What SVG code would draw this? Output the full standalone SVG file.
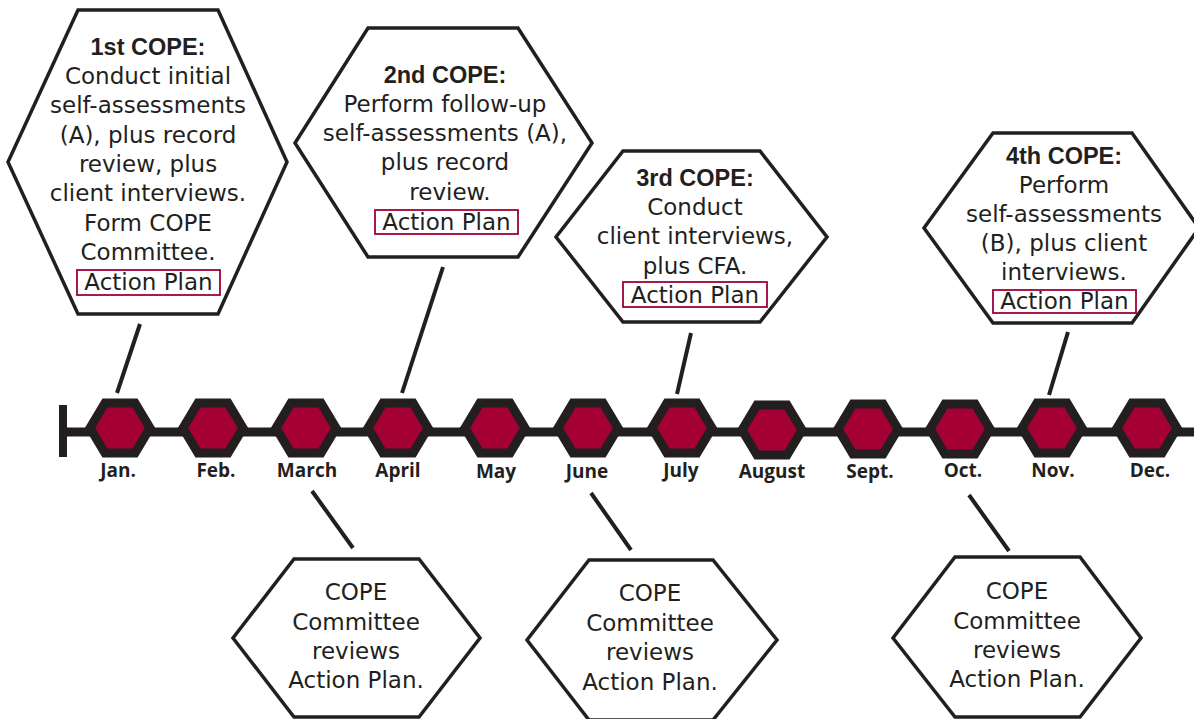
<svg xmlns="http://www.w3.org/2000/svg" width="1194" height="719" viewBox="0 0 1194 719">
<style>
.hex{fill:#fff;stroke:#231f20;stroke-width:3.5;stroke-linejoin:miter}
.t{font-family:"DejaVu Sans","Open Sans",sans-serif;font-size:23px;fill:#231f20;text-anchor:middle}
.b{font-family:"Liberation Sans",Arial,sans-serif;font-size:23.5px;font-weight:bold;fill:#231f20;text-anchor:middle}
.ap{fill:none;stroke:#a0003a;stroke-width:1.8}
.m{fill:#a50034;stroke:#231f20;stroke-width:9;stroke-linejoin:miter}
.ml{font-family:"Open Sans","Liberation Sans",sans-serif;font-size:19px;font-weight:bold;fill:#231f20;text-anchor:middle}
.c{stroke:#231f20;stroke-width:4;fill:none}
</style>
<defs>
<polygon id="mh" points="-30,0 -15,-25 15,-25 30,0 15,25 -15,25"/>
</defs>
<rect width="1194" height="719" fill="#fff"/>

<g id="connectors">
<line class="c" x1="140" y1="324" x2="117" y2="393"/>
<line class="c" x1="443" y1="267" x2="402" y2="393"/>
<line class="c" x1="691" y1="333" x2="677" y2="394"/>
<line class="c" x1="1068" y1="332" x2="1049" y2="395"/>
<line class="c" x1="312" y1="491" x2="353" y2="548"/>
<line class="c" x1="591" y1="493" x2="631" y2="550"/>
<line class="c" x1="969" y1="495" x2="1009" y2="551"/>
</g>

<g id="timeline">
<line x1="63" y1="432" x2="1194" y2="432" stroke="#231f20" stroke-width="9"/>
<rect x="59" y="405" width="8" height="52" fill="#231f20"/>
</g>

<g id="m-jan"><use href="#mh" class="m" x="120" y="428"/><text class="ml" x="118" y="477">Jan.</text></g>
<g id="m-feb"><use href="#mh" class="m" x="213" y="428"/><text class="ml" x="216" y="477">Feb.</text></g>
<g id="m-mar"><use href="#mh" class="m" x="306" y="428"/><text class="ml" x="307" y="477">March</text></g>
<g id="m-apr"><use href="#mh" class="m" x="398" y="428"/><text class="ml" x="398" y="477">April</text></g>
<g id="m-may"><use href="#mh" class="m" x="495" y="428"/><text class="ml" x="496" y="478">May</text></g>
<g id="m-jun"><use href="#mh" class="m" x="588" y="428"/><text class="ml" x="587" y="478">June</text></g>
<g id="m-jul"><use href="#mh" class="m" x="682" y="428"/><text class="ml" x="681" y="477">July</text></g>
<g id="m-aug"><use href="#mh" class="m" x="772" y="430"/><text class="ml" x="772" y="478">August</text></g>
<g id="m-sep"><use href="#mh" class="m" x="868" y="429"/><text class="ml" x="870" y="478">Sept.</text></g>
<g id="m-oct"><use href="#mh" class="m" x="960" y="429"/><text class="ml" x="963" y="477">Oct.</text></g>
<g id="m-nov"><use href="#mh" class="m" x="1052" y="428"/><text class="ml" x="1053" y="477">Nov.</text></g>
<g id="m-dec"><use href="#mh" class="m" x="1147" y="428"/><text class="ml" x="1150" y="477">Dec.</text></g>

<g id="cope1">
<polygon class="hex" points="78,10 218,10 287,162 218,314 78,314 8,162"/>
<text class="b" x="148" y="55">1st COPE:</text>
<text class="t" x="148" y="84">Conduct initial</text>
<text class="t" x="148" y="113">self-assessments</text>
<text class="t" x="148" y="143">(A), plus record</text>
<text class="t" x="148" y="172">review, plus</text>
<text class="t" x="148" y="201">client interviews.</text>
<text class="t" x="148" y="231">Form COPE</text>
<text class="t" x="148" y="260">Committee.</text>
<rect class="ap" x="77" y="270" width="143" height="25"/>
<text class="t" x="148.5" y="290">Action Plan</text>
</g>

<g id="cope2">
<polygon class="hex" points="368,28 518,28 592,143 518,257 368,257 295,143"/>
<text class="b" x="445" y="83">2nd COPE:</text>
<text class="t" x="445" y="112">Perform follow-up</text>
<text class="t" x="445" y="141">self-assessments (A),</text>
<text class="t" x="445" y="170">plus record</text>
<text class="t" x="450" y="200">review.</text>
<rect class="ap" x="375" y="210" width="143" height="24"/>
<text class="t" x="446.5" y="229.5">Action Plan</text>
</g>

<g id="cope3">
<polygon class="hex" points="623,151 760,151 827,237 760,322 623,322 556,237"/>
<text class="b" x="695" y="186">3rd COPE:</text>
<text class="t" x="695" y="215">Conduct</text>
<text class="t" x="695" y="244">client interviews,</text>
<text class="t" x="695" y="274">plus CFA.</text>
<rect class="ap" x="623" y="282" width="144" height="25"/>
<text class="t" x="695" y="303">Action Plan</text>
</g>

<g id="cope4">
<polygon class="hex" points="993,133 1132,133 1199,228 1132,323 993,323 924,228"/>
<text class="b" x="1064" y="164">4th COPE:</text>
<text class="t" x="1064" y="193">Perform</text>
<text class="t" x="1064" y="222">self-assessments</text>
<text class="t" x="1064" y="251">(B), plus client</text>
<text class="t" x="1064" y="280">interviews.</text>
<rect class="ap" x="993" y="290" width="143" height="23"/>
<text class="t" x="1064.5" y="309">Action Plan</text>
</g>

<g id="review1">
<polygon class="hex" points="294,559 419,559 480,638 419,717 294,717 233,638"/>
<text class="t" x="356" y="600">COPE</text>
<text class="t" x="356" y="630">Committee</text>
<text class="t" x="356" y="659">reviews</text>
<text class="t" x="356" y="688">Action Plan.</text>
</g>

<g id="review2">
<polygon class="hex" points="589,560 713,560 777,640 713,720 589,720 527,640"/>
<text class="t" x="650" y="601">COPE</text>
<text class="t" x="650" y="631">Committee</text>
<text class="t" x="650" y="660">reviews</text>
<text class="t" x="650" y="690">Action Plan.</text>
</g>

<g id="review3">
<polygon class="hex" points="955,557 1080,557 1141,638 1080,717 955,717 893,638"/>
<text class="t" x="1017" y="599">COPE</text>
<text class="t" x="1017" y="629">Committee</text>
<text class="t" x="1017" y="658">reviews</text>
<text class="t" x="1017" y="687">Action Plan.</text>
</g>
</svg>
